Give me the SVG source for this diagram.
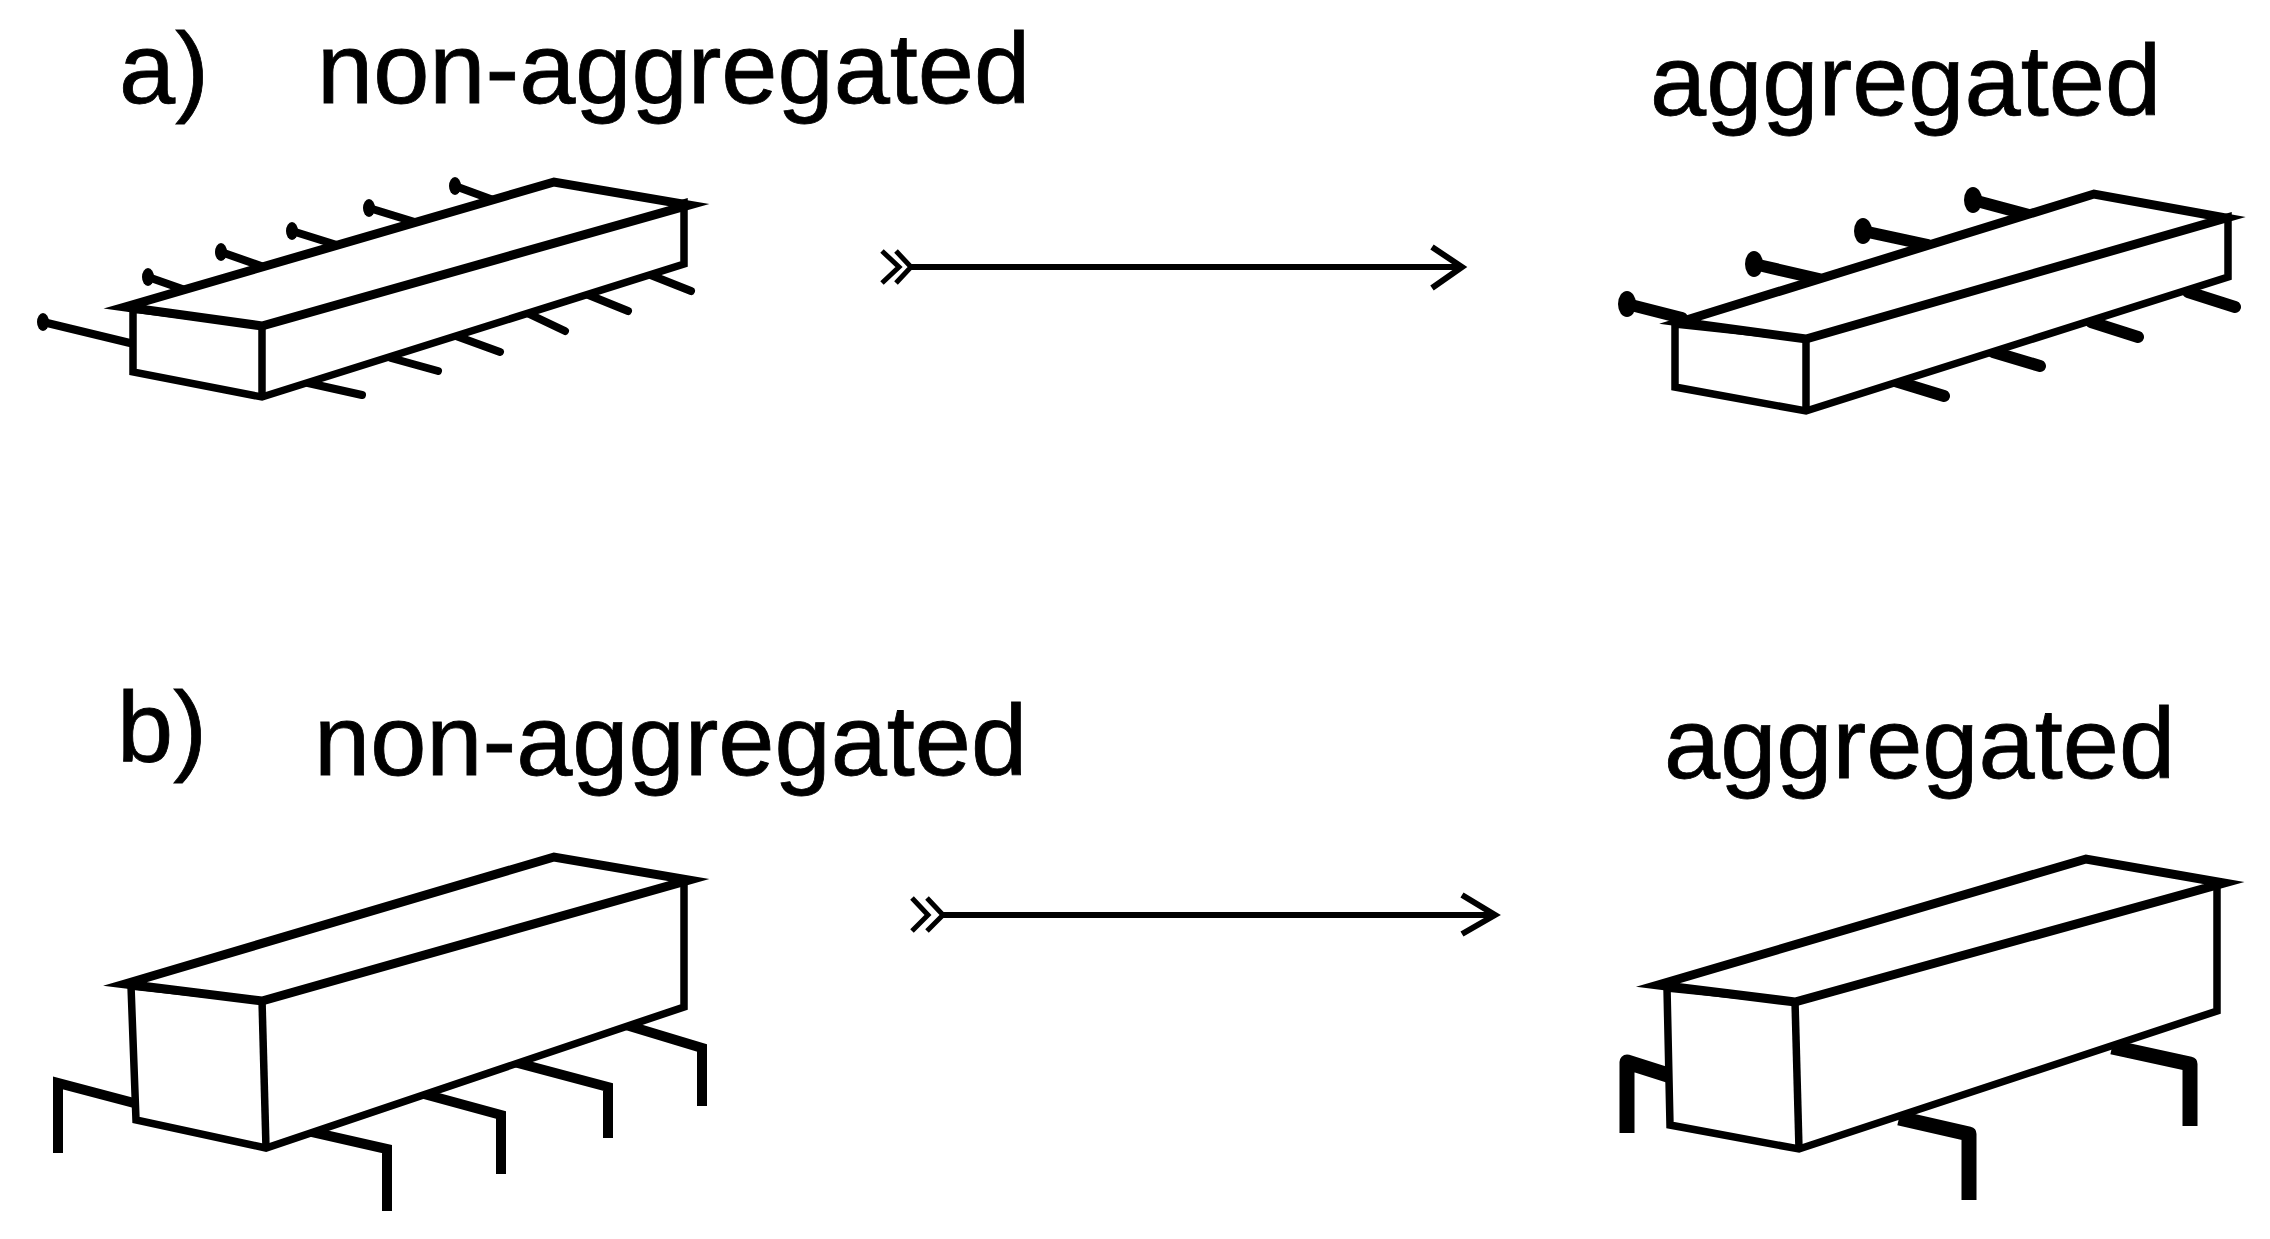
<svg xmlns="http://www.w3.org/2000/svg" width="2270" height="1239" viewBox="0 0 2270 1239">
<style>
text{font-family:"Liberation Sans",Arial,sans-serif;font-size:101px;fill:#000;stroke:#000;stroke-width:.8}
.box{fill:#fff;stroke:#000;stroke-width:7.5;stroke-linejoin:miter;stroke-miterlimit:10}
.top{fill:#fff;stroke:#000;stroke-width:9;stroke-linejoin:miter;stroke-miterlimit:10}
.pin{fill:none;stroke:#000;stroke-width:8;stroke-linecap:round}
.pinb{fill:none;stroke:#000;stroke-width:12;stroke-linecap:round}
.leg{fill:none;stroke:#000;stroke-width:10;stroke-linejoin:miter}
.legb{fill:none;stroke:#000;stroke-width:15;stroke-linejoin:round}
.arrow{fill:none;stroke:#000;stroke-width:6}
.tail{fill:none;stroke:#000;stroke-width:5}
</style>
<defs>
<ellipse id="h" cx="0" cy="0" rx="6" ry="9" fill="#000"/>
<ellipse id="hb" cx="0" cy="0" rx="9" ry="13" fill="#000"/>
</defs>
<rect width="2270" height="1239" fill="#fff"/>
<g id="labels">
<text x="119" y="103">a)</text>
<text x="317" y="103">non-aggregated</text>
<text x="1650" y="115">aggregated</text>
<text x="117" y="762">b)</text>
<text x="314" y="775">non-aggregated</text>
<text x="1664" y="778">aggregated</text>
</g>
<g id="connectors">
<path class="arrow" d="M911 267H1462M1432 247L1462 267L1432 288"/>
<path class="tail" d="M882 251L899 267L882 283M896 251L911 267L896 283"/>
<path class="arrow" d="M941 915H1495M1462 895L1495 915L1462 934"/>
<path class="tail" d="M912 898L928 915L912 931M927 898L943 915L927 931"/>
</g>
<g id="a-non-aggregated">
<path class="pin" d="M43 322L130 343"/><use href="#h" x="43" y="322"/>
<path class="pin" d="M148 277L188 291M221 252L264 267M292 231L340 246M369 208L418 223M455 186L496 201"/>
<use href="#h" x="148" y="277"/><use href="#h" x="221" y="252"/><use href="#h" x="292" y="231"/><use href="#h" x="369" y="208"/><use href="#h" x="455" y="186"/>
<path class="pin" d="M308 383L362 395M391 358L438 371M456 336L500 352M525 312L565 331M586 294L628 311M648 274L691 291"/>
<path class="box" d="M133 309V372L262 397L684 264V203L262 325Z"/>
<path class="box" d="M262 325V397" fill="none"/>
<path class="top" d="M125 307L554 182L689 205L262 326Z"/>
</g>
<g id="a-aggregated">
<path class="pinb" d="M1627 304L1682 318M1754 264L1819 279M1863 231L1928 245M1973 200L2029 215"/>
<use href="#hb" x="1627" y="304"/><use href="#hb" x="1754" y="264"/><use href="#hb" x="1863" y="231"/><use href="#hb" x="1973" y="200"/>
<path class="pinb" d="M1895 381L1944 396M1993 352L2040 366M2091 322L2138 337M2188 292L2235 307"/>
<path class="box" d="M1675 324V387L1806 411L2228 277V217L1806 338Z"/>
<path class="box" d="M1806 338V411" fill="none"/>
<path class="top" d="M1680 322L2094 194L2226 218L1806 339Z"/>
</g>
<g id="b-non-aggregated">
<path class="leg" d="M58 1153V1083L134 1103M387 1211V1149L308 1131M501 1174V1115L424 1094M608 1138V1087L514 1062M702 1106V1048L626 1025"/>
<path class="box" d="M131 986L136 1120L266 1148L684 1007V881L262 1000Z"/>
<path class="box" d="M262 1000L266 1148" fill="none"/>
<path class="top" d="M125 984L554 857L689 880L262 1001Z"/>
</g>
<g id="b-aggregated">
<path class="legb" d="M1627 1133V1062L1671 1076M1969 1200V1134L1899 1118M2190 1126V1064L2112 1047"/>
<path class="box" d="M1667 988L1670 1125L1799 1149L2217 1011V884L1795 1001Z"/>
<path class="box" d="M1795 1001L1799 1149" fill="none"/>
<path class="top" d="M1658 985L2086 859L2224 883L1795 1002Z"/>
</g>
</svg>
